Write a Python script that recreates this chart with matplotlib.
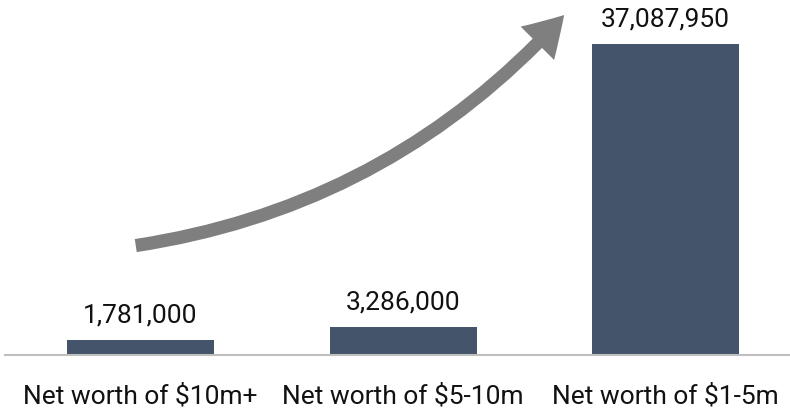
import matplotlib.pyplot as plt
from matplotlib.patches import FancyArrowPatch

categories = ["Net worth of $10m+", "Net worth of $5-10m", "Net worth of $1-5m"]
households = [1781000, 3286000, 37087950]

plt.rcParams['font.family'] = ['Roboto', 'DejaVu Sans']

W, H = 790, 409
fig = plt.figure(figsize=(W / 100, H / 100), dpi=100)
ax = fig.add_axes([5 / W, 54 / H, 785 / W, 355 / H])

x = range(len(categories))
bars = ax.bar(x, households, width=0.56, color="#44546a", zorder=2)
ax.set_xlim(-0.516, 2.474)
ax.set_ylim(0, 42_330_000)

for b, v in zip(bars, households):
    ax.annotate(f"{v:,}", (b.get_x() + b.get_width() / 2, v),
                xytext=(0, 9), textcoords="offset points",
                ha="center", va="bottom", fontsize=19, color="#111111")

ax.set_xticks(list(x))
ax.set_xticklabels(categories, fontsize=19, color="#111111")
ax.tick_params(axis="x", length=0, pad=21)
ax.set_yticks([])
for s in ["top", "right", "left"]:
    ax.spines[s].set_visible(False)
ax.spines["bottom"].set_color("#bfbfbf")
ax.spines["bottom"].set_linewidth(1.5)

# growth arrow sweeping up toward the tallest bar
arrow = FancyArrowPatch((133 / W, 1 - 246 / H), (566 / W, 1 - 13 / H),
                        transform=fig.transFigure,
                        connectionstyle="arc3,rad=0.18",
                        arrowstyle="simple,head_width=3.4,head_length=2.8,tail_width=0.95",
                        mutation_scale=10, color="#7f7f7f", lw=0, zorder=3)
fig.patches.append(arrow)

fig.savefig("out.png", dpi=100)
